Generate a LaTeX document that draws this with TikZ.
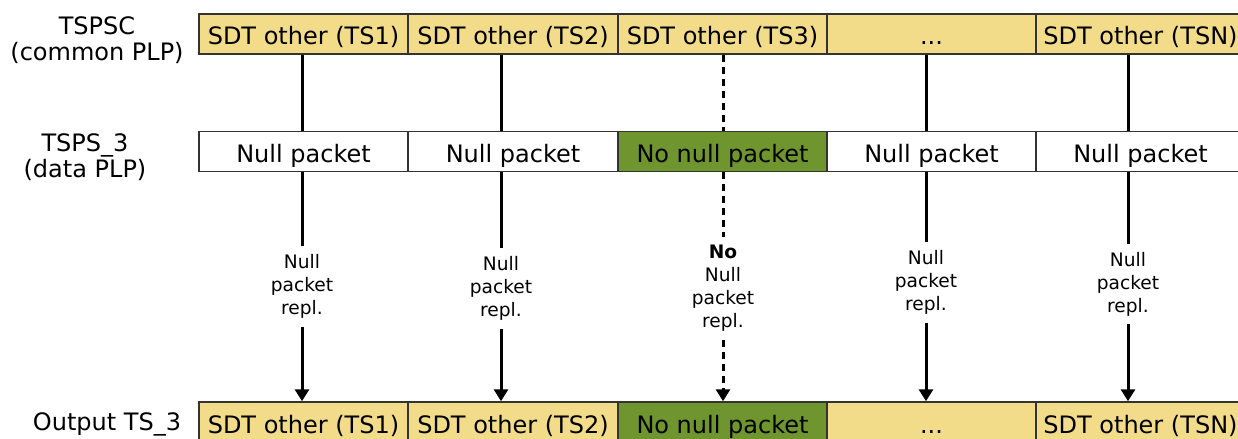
\documentclass[tikz,border=0pt]{standalone}
\usepackage{fontspec}
\setmainfont{DejaVu Sans}
\usetikzlibrary{arrows.meta,positioning,calc}
\definecolor{SdtYellow}{HTML}{F2DC89}
\definecolor{NoNullGreen}{HTML}{6F952F}
\definecolor{CellEdge}{HTML}{333333}
\newcommand\tsdots{...}

\begin{document}
\begin{tikzpicture}[x=0.5pt,y=-0.5pt, every node/.style={font=\fontsize{12}{13}\selectfont},
  cell/.style={draw=CellEdge,line width=0.75pt,minimum width=104.6pt,minimum height=20pt,inner sep=0pt,text height=12pt,text depth=1pt},
  sdt/.style={cell,fill=SdtYellow},
  nullp/.style={cell,fill=white},
  nonull/.style={cell,fill=NoNullGreen},
  repl/.style={align=center,font=\fontsize{9.3}{11.5}\selectfont,inner sep=4pt},
  flow/.style={line width=1.5pt},
  flowgap/.style={flow,dash pattern=on 3.5pt off 2.5pt},
  tip/.style={-{Triangle[width=7pt,length=6pt]}}]
  \useasboundingbox (0,0) rectangle (1238,439);
  \clip (0,0) rectangle (1238,439);
  % row labels
  \node[align=center] (lblTop) at (97,40) {TSPSC\\(common PLP)};
  \node[align=center] (lblMid) at (85,157) {TSPS\_3\\(data PLP)};
  \node (lblOut) at (107,424) {Output TS\_3};
  % common PLP row
  \foreach \i/\cx/\txt in {1/303.5/SDT other (TS1),2/513/SDT other (TS2),3/722.5/SDT other (TS3),4/931.5/\tsdots,5/1140.5/SDT other (TSN)}{
    \node[sdt] (t\i) at (\cx,34) {\txt};
  }
  % data PLP row
  \foreach \i/\cx/\sty/\txt in {1/303.5/nullp/Null packet,2/513/nullp/Null packet,3/722.5/nonull/No null packet,4/931.5/nullp/Null packet,5/1140.5/nullp/Null packet}{
    \node[\sty] (m\i) at (\cx,151.5) {\txt};
  }
  % output row
  \foreach \i/\cx/\sty/\txt in {1/303.5/sdt/SDT other (TS1),2/513/sdt/SDT other (TS2),3/722.5/nonull/No null packet,4/931.5/sdt/\tsdots,5/1140.5/sdt/SDT other (TSN)}{
    \node[\sty] (b\i) at (\cx,422) {\txt};
  }
  % replacement labels
  \node[repl] (r1) at (302,286.5) {Null\\packet\\repl.};
  \node[repl] (r2) at (501,288.5) {Null\\packet\\repl.};
  \node[repl] (r3) at (723,288.5) {\textbf{No}\\Null\\packet\\repl.};
  \node[repl] (r4) at (926,282.5) {Null\\packet\\repl.};
  \node[repl] (r5) at (1128,284) {Null\\packet\\repl.};
  % connectors
  \foreach \i/\sty in {1/flow,2/flow,3/flowgap,4/flow,5/flow}{
    \draw[\sty] (t\i.south -| r\i) -- (m\i.north -| r\i);
    \draw[\sty] (m\i.south -| r\i) -- (r\i.north);
    \draw[\sty,tip] (r\i.south) -- (b\i.north -| r\i);
  }
\end{tikzpicture}
\end{document}
